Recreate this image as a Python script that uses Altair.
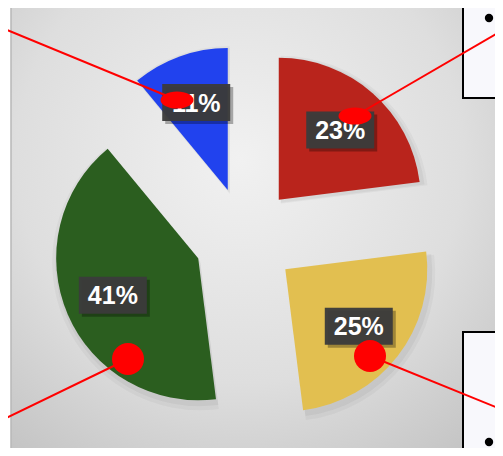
import math
import altair as alt
import pandas as pd

# ---------------- data ----------------
categories = ["Red", "Yellow", "Green", "Blue"]
values = [23, 25, 41, 11]
labels = ["23%", "25%", "41%", "11%"]
colors = ["#b9241c", "#e2bf50", "#2b5e1f", "#2142ee"]

# ---------------- layout (reference pixel coordinates) ----------------
W, H = 503, 456
MARGIN = 8
CX, CY = 245, 238          # pie centre
EXPLODE = 51               # explode distance of every slice
R = 142                    # slice radius
LABEL_R = 144              # distance of the label from the pie centre

PANEL = {"x": [11], "x2": [520], "y": [2], "y2": [470]}
BOXES = {"x": [463, 463], "x2": [520, 520], "y": [-10, 332], "y2": [98, 470]}
BULLETS = {"x": [489, 489], "y": [18, 442]}
CALLOUTS = {
    "x": [177, 355, 128, 370], "y": [100, 116, 359, 356],
    "x2": [0, 503, 0, 503], "y2": [27, 30, 421, 410],
}
ELLIPSE_IDX = [0, 1]
CIRCLE_IDX = [2, 3]

PW, PH = W - 2 * MARGIN, H - 2 * MARGIN
xs = alt.Scale(domain=[MARGIN, MARGIN + PW], range=[0, PW], zero=False, nice=False)
ys = alt.Scale(domain=[MARGIN, MARGIN + PH], range=[0, PH], zero=False, nice=False)
color_scale = alt.Scale(domain=categories, range=colors)

df = pd.DataFrame({"cat": categories, "value": values, "label": labels,
                   "ord": list(range(len(categories)))})

base = alt.Chart(df).transform_stack(
    stack="value", groupby=[], as_=["v0", "v1"],
    sort=[alt.SortField("ord", order="ascending")],
).transform_calculate(
    mid="(datum.v0 + datum.v1) / 200 * 2 * PI"
).transform_calculate(
    ax=f"{CX} + {EXPLODE} * sin(datum.mid)",
    ay=f"{CY} - {EXPLODE} * cos(datum.mid)",
    lx=f"{CX} + {LABEL_R} * sin(datum.mid)",
    ly=f"{CY} - {LABEL_R} * cos(datum.mid)",
)

theta = alt.Theta("v0:Q", scale=alt.Scale(domain=[0, 100], range=[0, 2 * math.pi]))
theta2 = alt.Theta2("v1:Q")
ax = alt.X("ax:Q", scale=xs, axis=None)
ay = alt.Y("ay:Q", scale=ys, axis=None)
lx = alt.X("lx:Q", scale=xs, axis=None)
ly = alt.Y("ly:Q", scale=ys, axis=None)

# background panel
grad = alt.RadialGradient(
    gradient="radial",
    stops=[alt.GradientStop(offset=0, color="#f1f1f1"),
           alt.GradientStop(offset=0.55, color="#dedede"),
           alt.GradientStop(offset=1, color="#bdbdbd")],
    x1=0.45, y1=0.35, r1=0, x2=0.45, y2=0.35, r2=0.8,
)
panel = alt.Chart(pd.DataFrame(PANEL)).mark_rect(
    fill=grad, stroke="#b8b8b8", strokeWidth=1.5, cornerRadius=4
).encode(
    x=alt.X("x:Q", scale=xs, axis=None), x2="x2:Q",
    y=alt.Y("y:Q", scale=ys, axis=None), y2="y2:Q",
)

boxes = alt.Chart(pd.DataFrame(BOXES)).mark_rect(
    fill="#f8f8fc", stroke="#000000", strokeWidth=2
).encode(
    x=alt.X("x:Q", scale=xs, axis=None), x2="x2:Q",
    y=alt.Y("y:Q", scale=ys, axis=None), y2="y2:Q",
)
bullets = alt.Chart(pd.DataFrame(BULLETS)).mark_point(
    shape="circle", filled=True, color="#000000", size=70, opacity=1
).encode(
    x=alt.X("x:Q", scale=xs, axis=None), y=alt.Y("y:Q", scale=ys, axis=None)
)

# slice shadows (soft)
shadow1 = base.mark_arc(radius=R + 6, color="#000000", opacity=0.035, xOffset=2, yOffset=4).encode(
    x=ax, y=ay, theta=theta, theta2=theta2)
shadow2 = base.mark_arc(radius=R + 3, color="#000000", opacity=0.045, xOffset=2, yOffset=3).encode(
    x=ax, y=ay, theta=theta, theta2=theta2)

arcs = base.mark_arc(radius=R).encode(
    x=ax, y=ay, theta=theta, theta2=theta2,
    color=alt.Color("cat:N", scale=color_scale, legend=None),
)

RECT_PATH = "M-1,-0.544L1,-0.544L1,0.544L-1,0.544Z"
label_shadow = base.mark_point(
    shape=RECT_PATH, size=68 * 68, filled=True, color="#000000", opacity=0.3,
    xOffset=3, yOffset=3,
).encode(x=lx, y=ly)
label_box = base.mark_point(
    shape=RECT_PATH, size=68 * 68, filled=True, color="#3b3b3b", opacity=0.96,
).encode(x=lx, y=ly)
label_text = base.mark_text(
    font="Liberation Sans", fontWeight="bold", fontSize=25, color="#ffffff",
    align="center", baseline="middle", dy=1,
).encode(x=lx, y=ly, text="label:N")

cdf = pd.DataFrame(CALLOUTS)
rules = alt.Chart(cdf).mark_rule(color="#ff0000", strokeWidth=2).encode(
    x=alt.X("x:Q", scale=xs, axis=None), x2="x2:Q",
    y=alt.Y("y:Q", scale=ys, axis=None), y2="y2:Q",
)
ELLIPSE_PATH = "M-1,0A1,0.52,0,1,0,1,0A1,0.52,0,1,0,-1,0Z"
ellipses = alt.Chart(cdf.iloc[ELLIPSE_IDX]).mark_point(
    shape=ELLIPSE_PATH, size=33 * 33, filled=True, color="#ff0000", opacity=1
).encode(x=alt.X("x:Q", scale=xs, axis=None), y=alt.Y("y:Q", scale=ys, axis=None))
circles = alt.Chart(cdf.iloc[CIRCLE_IDX]).mark_point(
    shape="circle", size=32 * 32, filled=True, color="#ff0000", opacity=1
).encode(x=alt.X("x:Q", scale=xs, axis=None), y=alt.Y("y:Q", scale=ys, axis=None))

chart = alt.layer(
    panel, boxes, bullets, shadow1, shadow2, arcs,
    label_shadow, label_box, label_text, rules, ellipses, circles,
).properties(
    width=PW, height=PH, padding=0,
    autosize=alt.AutoSizeParams(type="none"),
).configure_view(stroke=None)

chart.save("out.html", embed_options={"renderer": "svg", "actions": False})
